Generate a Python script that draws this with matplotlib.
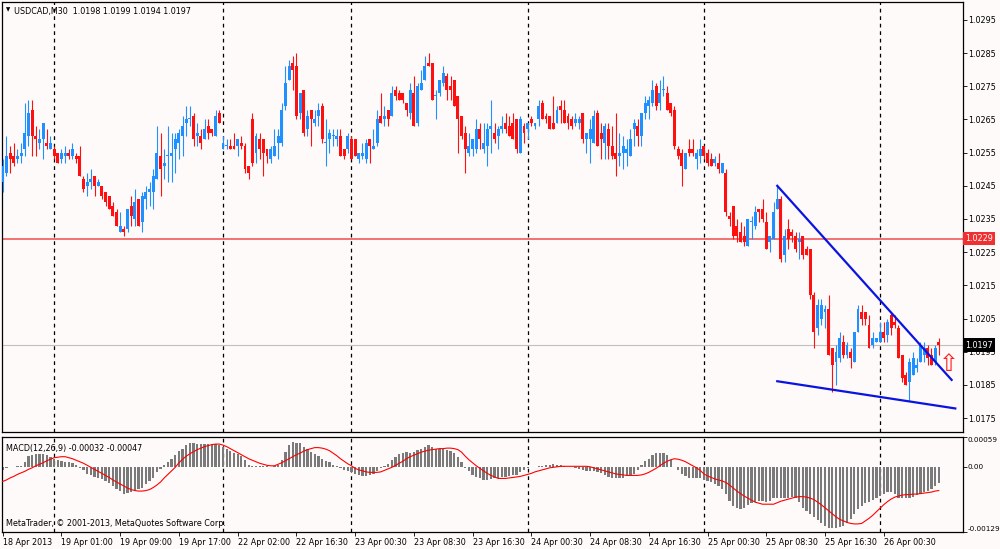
import numpy as np
import matplotlib
matplotlib.use('Agg')
import matplotlib.pyplot as plt
import matplotlib.transforms as mtransforms

# USDCAD M30 candles, prices in pips (1.0251 -> 10251)
opens = [
    10246, 10249, 10255, 10254, 10253, 10254, 10256, 10260, 10268, 10260,
    10258, 10259, 10258, 10256, 10256, 10255, 10253, 10254, 10255, 10254,
    10254, 10254, 10247, 10245, 10246, 10248, 10245, 10245, 10243, 10242,
    10239, 10237, 10231, 10232, 10232, 10239, 10235, 10241, 10234, 10241,
    10243, 10243, 10247, 10254, 10251, 10254, 10254, 10256, 10258, 10260,
    10264, 10265, 10266, 10260, 10260, 10259, 10263, 10262, 10260, 10267,
    10256, 10257, 10257, 10257, 10257, 10258, 10257, 10251, 10265, 10255,
    10259, 10259, 10256, 10253, 10254, 10258, 10258, 10269, 10277, 10282,
    10281, 10267, 10274, 10262, 10268, 10264, 10266, 10269, 10258, 10259,
    10260, 10259, 10260, 10256, 10256, 10259, 10259, 10253, 10254, 10253,
    10259, 10256, 10258, 10266, 10265, 10268, 10266, 10274, 10273, 10273,
    10270, 10267, 10273, 10264, 10274, 10277, 10282, 10282, 10272, 10273,
    10276, 10278, 10275, 10277, 10272, 10266, 10261, 10255, 10256, 10256,
    10262, 10256, 10257, 10262, 10261, 10260, 10262, 10264, 10263, 10264,
    10265, 10255, 10263, 10262, 10265, 10263, 10265, 10270, 10266, 10266,
    10264, 10264, 10269, 10268, 10266, 10265, 10264, 10264, 10267, 10259,
    10259, 10258, 10267, 10261, 10258, 10262, 10257, 10255, 10254, 10255,
    10255, 10254, 10262, 10263, 10260, 10267, 10269, 10270, 10275, 10270,
    10274, 10273, 10270, 10268, 10256, 10255, 10250, 10256, 10256, 10253,
    10254, 10257, 10255, 10253, 10252, 10252, 10249, 10249, 10236, 10239,
    10233, 10231, 10230, 10227, 10234, 10233, 10238, 10238, 10234, 10228,
    10229, 10238, 10241, 10224, 10232, 10231, 10230, 10228, 10230, 10226,
    10226, 10212, 10202, 10205, 10207, 10208, 10196, 10192, 10193, 10198,
    10194, 10195, 10192, 10201, 10207, 10207, 10203, 10197, 10198, 10198,
    10201, 10200, 10206, 10204, 10202, 10194, 10188, 10186, 10188, 10190,
    10192, 10194, 10196, 10194, 10192, 10198]
highs = [
    10253, 10260, 10257, 10258, 10256, 10258, 10270, 10271, 10271, 10263,
    10262, 10264, 10262, 10260, 10257, 10255, 10256, 10257, 10256, 10258,
    10255, 10257, 10248, 10249, 10250, 10248, 10247, 10245, 10243, 10242,
    10240, 10238, 10237, 10233, 10238, 10242, 10244, 10241, 10243, 10245,
    10246, 10250, 10263, 10261, 10256, 10263, 10261, 10261, 10262, 10266,
    10269, 10269, 10267, 10264, 10262, 10265, 10265, 10262, 10268, 10268,
    10260, 10259, 10259, 10261, 10259, 10260, 10258, 10251, 10267, 10261,
    10261, 10259, 10256, 10257, 10262, 10262, 10270, 10281, 10283, 10284,
    10285, 10273, 10274, 10268, 10268, 10268, 10270, 10270, 10265, 10262,
    10262, 10262, 10262, 10256, 10261, 10260, 10259, 10255, 10258, 10259,
    10259, 10262, 10268, 10273, 10269, 10268, 10275, 10275, 10274, 10273,
    10270, 10276, 10278, 10276, 10280, 10284, 10285, 10282, 10274, 10277,
    10281, 10279, 10278, 10277, 10272, 10266, 10263, 10261, 10259, 10265,
    10264, 10264, 10264, 10271, 10264, 10263, 10266, 10267, 10266, 10267,
    10265, 10266, 10264, 10264, 10266, 10264, 10271, 10271, 10267, 10266,
    10272, 10269, 10271, 10271, 10267, 10266, 10267, 10266, 10267, 10261,
    10265, 10268, 10268, 10264, 10264, 10264, 10263, 10267, 10261, 10260,
    10259, 10262, 10265, 10265, 10267, 10272, 10272, 10277, 10276, 10277,
    10278, 10275, 10270, 10269, 10257, 10256, 10255, 10259, 10259, 10256,
    10259, 10257, 10256, 10255, 10254, 10255, 10252, 10250, 10237, 10239,
    10235, 10234, 10233, 10235, 10236, 10239, 10238, 10241, 10237, 10230,
    10240, 10245, 10242, 10232, 10235, 10232, 10231, 10231, 10230, 10227,
    10226, 10213, 10211, 10211, 10209, 10212, 10196, 10197, 10201, 10200,
    10198, 10196, 10201, 10209, 10209, 10207, 10206, 10201, 10199, 10204,
    10204, 10205, 10207, 10206, 10203, 10194, 10189, 10193, 10195, 10193,
    10198, 10198, 10197, 10196, 10197, 10199]
lows = [
    10243, 10248, 10249, 10251, 10252, 10252, 10254, 10257, 10254, 10254,
    10256, 10253, 10256, 10256, 10253, 10252, 10252, 10252, 10253, 10253,
    10252, 10248, 10243, 10242, 10244, 10242, 10245, 10241, 10239, 10238,
    10236, 10233, 10231, 10230, 10231, 10233, 10233, 10233, 10231, 10238,
    10239, 10238, 10247, 10242, 10247, 10246, 10246, 10249, 10253, 10254,
    10260, 10263, 10257, 10257, 10256, 10259, 10259, 10260, 10260, 10264,
    10256, 10256, 10256, 10256, 10254, 10256, 10249, 10247, 10251, 10252,
    10253, 10248, 10252, 10252, 10254, 10253, 10257, 10268, 10277, 10274,
    10265, 10265, 10260, 10260, 10257, 10263, 10263, 10258, 10251, 10255,
    10257, 10257, 10254, 10253, 10255, 10253, 10254, 10252, 10253, 10252,
    10252, 10256, 10257, 10264, 10263, 10263, 10266, 10271, 10271, 10270,
    10266, 10265, 10263, 10263, 10274, 10277, 10281, 10271, 10265, 10272,
    10275, 10271, 10271, 10269, 10255, 10259, 10249, 10254, 10254, 10255,
    10256, 10255, 10251, 10255, 10258, 10256, 10261, 10261, 10260, 10259,
    10255, 10255, 10258, 10259, 10263, 10262, 10263, 10265, 10264, 10262,
    10262, 10264, 10264, 10264, 10262, 10262, 10263, 10262, 10258, 10255,
    10252, 10258, 10257, 10253, 10253, 10253, 10253, 10248, 10251, 10250,
    10251, 10254, 10257, 10257, 10257, 10265, 10265, 10269, 10268, 10268,
    10272, 10268, 10266, 10256, 10253, 10245, 10250, 10254, 10254, 10250,
    10252, 10253, 10251, 10251, 10251, 10249, 10249, 10236, 10233, 10229,
    10228, 10228, 10227, 10227, 10229, 10232, 10234, 10234, 10226, 10225,
    10229, 10238, 10222, 10222, 10226, 10228, 10225, 10223, 10223, 10224,
    10211, 10196, 10200, 10203, 10202, 10194, 10183, 10185, 10192, 10193,
    10193, 10190, 10192, 10201, 10203, 10203, 10196, 10196, 10198, 10198,
    10198, 10198, 10200, 10202, 10193, 10186, 10185, 10180, 10188, 10189,
    10192, 10192, 10191, 10191, 10191, 10194]
closes = [
    10251, 10254, 10253, 10252, 10254, 10255, 10261, 10267, 10260, 10259,
    10259, 10264, 10257, 10258, 10254, 10252, 10255, 10255, 10254, 10256,
    10253, 10248, 10244, 10246, 10247, 10245, 10246, 10242, 10240, 10238,
    10236, 10233, 10233, 10231, 10238, 10236, 10240, 10233, 10242, 10243,
    10244, 10248, 10255, 10250, 10252, 10254, 10255, 10259, 10261, 10263,
    10265, 10265, 10259, 10261, 10258, 10262, 10261, 10261, 10266, 10264,
    10258, 10257, 10256, 10256, 10259, 10257, 10250, 10249, 10252, 10260,
    10256, 10255, 10254, 10256, 10257, 10260, 10268, 10276, 10281, 10280,
    10266, 10273, 10261, 10266, 10265, 10265, 10268, 10259, 10258, 10261,
    10260, 10260, 10254, 10254, 10260, 10253, 10254, 10255, 10255, 10258,
    10257, 10257, 10265, 10264, 10266, 10265, 10273, 10272, 10271, 10271,
    10268, 10274, 10263, 10275, 10276, 10281, 10281, 10271, 10272, 10277,
    10279, 10274, 10274, 10269, 10265, 10260, 10256, 10257, 10259, 10262,
    10259, 10258, 10262, 10263, 10259, 10262, 10263, 10262, 10260, 10259,
    10256, 10265, 10261, 10264, 10264, 10264, 10269, 10265, 10265, 10262,
    10262, 10268, 10268, 10264, 10264, 10263, 10265, 10265, 10259, 10261,
    10262, 10266, 10257, 10259, 10263, 10257, 10254, 10253, 10255, 10257,
    10256, 10259, 10264, 10260, 10267, 10270, 10271, 10274, 10269, 10273,
    10274, 10268, 10267, 10257, 10254, 10251, 10255, 10255, 10255, 10255,
    10256, 10254, 10252, 10251, 10253, 10250, 10252, 10237, 10235, 10230,
    10230, 10228, 10228, 10235, 10234, 10237, 10237, 10235, 10226, 10230,
    10237, 10241, 10223, 10230, 10229, 10230, 10226, 10229, 10224, 10224,
    10212, 10201, 10209, 10209, 10208, 10194, 10191, 10195, 10199, 10194,
    10197, 10193, 10201, 10208, 10205, 10205, 10196, 10199, 10199, 10201,
    10199, 10204, 10202, 10203, 10193, 10187, 10185, 10192, 10193, 10191,
    10197, 10196, 10193, 10191, 10196, 10197]

# MACD(12,26,9) main (histogram) and signal, in units of 1e-5
macd_main = [
    -6, -2, -1, 0, 1, 2, 10, 22, 23, 25,
    25, 26, 23, 20, 16, 13, 11, 10, 9, 7,
    3, -2, -7, -14, -17, -20, -23, -25, -29, -32,
    -38, -44, -48, -54, -52, -50, -47, -44, -41, -34,
    -29, -23, -10, -4, 4, 10, 16, 23, 31, 36,
    43, 48, 47, 46, 45, 45, 45, 45, 46, 43,
    40, 36, 31, 28, 25, 22, 13, 4, 1, 1,
    2, 1, 1, 0, 2, 4, 13, 29, 43, 50,
    48, 47, 40, 36, 30, 25, 22, 16, 12, 9,
    4, 2, -3, -7, -9, -10, -14, -17, -19, -18,
    -17, -14, -9, -3, 2, 6, 13, 20, 25, 27,
    29, 28, 29, 34, 36, 40, 43, 40, 36, 36,
    36, 34, 31, 27, 20, 10, -2, -9, -16, -20,
    -23, -27, -27, -25, -23, -23, -20, -20, -19, -17,
    -16, -10, -7, -2, -1, 0, 1, 2, 3, 3,
    5, 4, 3, 1, 0, -1, -2, -5, -7, -8,
    -9, -9, -10, -12, -17, -20, -23, -23, -23, -23,
    -19, -16, -14, -7, 4, 11, 16, 23, 27, 28,
    27, 23, 13, 0, -7, -14, -18, -23, -23, -23,
    -23, -27, -29, -30, -34, -37, -44, -54, -68, -77,
    -82, -84, -81, -76, -72, -69, -68, -68, -69, -68,
    -62, -61, -61, -61, -61, -59, -61, -70, -81, -87,
    -94, -100, -106, -111, -118, -121, -122, -121, -120, -118,
    -111, -104, -94, -84, -77, -72, -69, -65, -61, -57,
    -54, -50, -49, -54, -61, -62, -62, -61, -59, -55,
    -54, -50, -47, -44, -38, -32]
macd_signal = [
    -29, -26, -22, -19, -15, -12, -9, -5, -2, 2,
    5, 8, 12, 15, 18, 19, 20, 20, 18, 16,
    13, 10, 7, 3, -1, -5, -9, -13, -17, -21,
    -26, -30, -34, -38, -42, -45, -47, -48, -48, -47,
    -45, -41, -36, -30, -22, -15, -8, -1, 8, 15,
    21, 26, 30, 34, 37, 40, 42, 44, 45, 45,
    43, 40, 36, 32, 28, 24, 20, 16, 13, 10,
    7, 5, 3, 2, 2, 5, 8, 12, 16, 20,
    24, 27, 31, 34, 36, 38, 38, 37, 35, 32,
    27, 22, 16, 11, 6, 2, -3, -6, -8, -10,
    -11, -11, -11, -10, -7, -4, -1, 3, 7, 11,
    16, 20, 23, 26, 29, 31, 33, 34, 35, 36,
    36, 37, 37, 36, 34, 29, 21, 14, 8, 2,
    -3, -8, -13, -17, -20, -23, -23, -23, -22, -21,
    -20, -19, -17, -15, -13, -10, -8, -6, -4, -2,
    -1, 0, 1, 1, 1, 1, 1, 1, 1, 1,
    0, -2, -4, -6, -8, -10, -12, -14, -15, -16,
    -17, -17, -17, -17, -16, -14, -11, -7, -3, 2,
    7, 11, 14, 16, 15, 13, 10, 6, 2, -2,
    -7, -14, -18, -21, -24, -26, -28, -31, -36, -42,
    -48, -53, -58, -62, -66, -70, -72, -74, -74, -74,
    -74, -71, -68, -66, -64, -62, -60, -59, -59, -60,
    -62, -65, -70, -75, -81, -87, -93, -99, -104, -107,
    -110, -112, -113, -113, -112, -107, -102, -96, -89, -82,
    -75, -69, -64, -60, -58, -56, -55, -55, -54, -54,
    -53, -52, -51, -50, -48, -47]

# bar index of first bar of each day (period separators)
day_starts = [14, 60, 95, 143, 191, 239]
time_ticks = list(range(0, 241, 16))
time_labels = ['18 Apr 2013', '19 Apr 01:00', '19 Apr 09:00', '19 Apr 17:00',
               '22 Apr 02:00', '22 Apr 16:30', '23 Apr 00:30', '23 Apr 08:30',
               '23 Apr 16:30', '24 Apr 00:30', '24 Apr 08:30', '24 Apr 16:30',
               '25 Apr 00:30', '25 Apr 08:30', '25 Apr 16:30', '26 Apr 00:30']
price_ticks = [1.0175, 1.0185, 1.0195, 1.0205, 1.0215, 1.0225, 1.0235,
               1.0245, 1.0255, 1.0265, 1.0275, 1.0285, 1.0295]
hline_level = 1.0229
bid = 1.0197
trend_upper = ([211, 258.5], [1.0245, 1.01865])
trend_lower = ([211, 259.5], [1.01861, 1.01779])
arrow_at = (257.6, 1.01912)

bg = '#fffafa'
bull = '#1e90ff'
bear = '#ff1010'
fs = 5.8

o = np.array(opens) / 10000
h = np.array(highs) / 10000
l = np.array(lows) / 10000
c = np.array(closes) / 10000
x = np.arange(len(c))
up = c >= o
dn = ~up

fig = plt.figure(figsize=(10, 5.49), dpi=100, facecolor=bg)
ax = fig.add_axes([0.002, 1 - 432 / 549, 0.961, 430 / 549], facecolor=bg)
ax2 = fig.add_axes([0.002, 1 - 532 / 549, 0.961, 95 / 549], facecolor=bg)

# candles
ax.vlines(x[up], l[up], h[up], color=bull, lw=0.8, zorder=3)
ax.vlines(x[dn], l[dn], h[dn], color=bear, lw=0.8, zorder=3)
ax.bar(x[up], np.maximum(c - o, 0.00003)[up], bottom=o[up], width=0.8,
       color=bull, linewidth=0, zorder=3)
ax.bar(x[dn], np.maximum(o - c, 0.00003)[dn], bottom=c[dn], width=0.8,
       color=bear, linewidth=0, zorder=3)

ax.axhline(hline_level, color='#f05a5a', lw=1.2, zorder=2)
ax.axhline(bid, color='#c0c0c0', lw=0.8, zorder=2)
ax.plot(*trend_upper, color='#0a14e0', lw=1.6, zorder=4)
ax.plot(*trend_lower, color='#0a14e0', lw=1.6, zorder=4)
ax.text(arrow_at[0], arrow_at[1], '\u21e7', color='#ff2020', fontsize=17,
        ha='center', va='center', zorder=5)

xmin, xmax = -0.2, 261.6
for a in (ax, ax2):
    a.set_xlim(xmin, xmax)
    for s in day_starts:
        a.axvline(s, color='black', lw=0.9, ls=(0, (3, 3)), zorder=1)
    for sp in a.spines.values():
        sp.set_color('black')
        sp.set_linewidth(0.9)
    a.yaxis.tick_right()
    a.tick_params(axis='y', direction='out', length=3, labelsize=fs, pad=1,
                  width=0.6)

ax.set_ylim(1.01708, 1.03004)
ax.set_yticks(price_ticks)
ax.set_yticklabels(['%.4f' % p for p in price_ticks])
ax.set_xticks([])

ytrans = mtransforms.blended_transform_factory(ax.transAxes, ax.transData)
ax.text(1.0025, hline_level, '%.4f' % hline_level, transform=ytrans,
        color='white', fontsize=fs, va='center', ha='left', zorder=6,
        clip_on=False, bbox=dict(facecolor='#f03030', edgecolor='none', pad=1.5))
ax.text(1.0025, bid, '%.4f' % bid, transform=ytrans,
        color='white', fontsize=fs, va='center', ha='left', zorder=6,
        clip_on=False, bbox=dict(facecolor='black', edgecolor='none', pad=1.5))

ax.text(0.004, 0.987, '\u25bc', transform=ax.transAxes, fontsize=4,
        va='top', ha='left')
ax.text(0.013, 0.988, 'USDCAD,M30  %.4f %.4f %.4f %.4f' % (o[-1], h[-1], l[-1], c[-1]),
        transform=ax.transAxes, fontsize=fs, va='top', ha='left')

# MACD panel
m = np.array(macd_main) * 1e-5
sgl = np.array(macd_signal) * 1e-5
ax2.bar(x, m, width=0.62, color='#7a7a7a', linewidth=0, zorder=2)
ax2.plot(x, sgl, color='#ff0000', lw=0.8, zorder=3)
ax2.set_ylim(-0.00129, 0.00059)
ax2.set_yticks([0.00059, 0.0, -0.00129])
ylabs = ax2.set_yticklabels(['0.00059', '0.00', '-0.00129'])
ylabs[0].set_va('top')
ylabs[2].set_va('bottom')
ax2.tick_params(axis='y', labelsize=5.2, pad=0.5)

ax2.set_xticks(time_ticks)
xlabs = ax2.set_xticklabels(time_labels, ha='left')
shift = mtransforms.ScaledTranslation(1.5 / 72, 0, fig.dpi_scale_trans)
for t in xlabs:
    t.set_transform(t.get_transform() + shift)
ax2.tick_params(axis='x', direction='out', length=3, labelsize=fs, pad=1.5,
                width=0.6)

ax2.text(0.004, 0.93, 'MACD(12,26,9) %.5f %.5f' % (m[-1], sgl[-1]),
         transform=ax2.transAxes, fontsize=fs, va='top', ha='left')
ax2.text(0.004, 0.04, 'MetaTrader, \u00a9 2001-2013, MetaQuotes Software Corp.',
         transform=ax2.transAxes, fontsize=fs, va='bottom', ha='left')

fig.savefig('out.png', dpi=100, facecolor=bg)
